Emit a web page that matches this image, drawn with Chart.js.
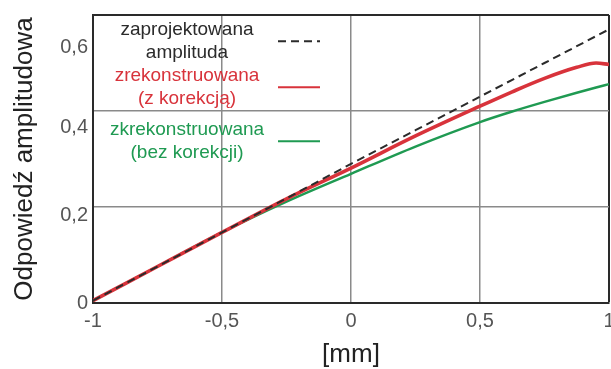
<!DOCTYPE html>
<html>
<head>
<meta charset="utf-8">
<script src="https://cdn.jsdelivr.net/npm/chart.js@4.4.1/dist/chart.umd.min.js"></script>
<style>
    html, body { margin: 0; padding: 0; background: #fff; }
    #wrap { width: 611px; height: 369px; position: relative; }
</style>
</head>
<body>
<div id="wrap"><canvas id="ampChart"></canvas></div>
<script>
    // positions along the scan [mm]
    const positions = [-1, -0.75, -0.5, -0.25, 0, 0.25, 0.5, 0.625, 0.75, 0.875, 0.95, 1];

    const designed = [0.005, 0.076, 0.147, 0.218, 0.29, 0.36, 0.43, 0.465, 0.5, 0.535, 0.556, 0.57];
    const corrected = [0.005, 0.076, 0.147, 0.217, 0.281, 0.348, 0.41, 0.44, 0.468, 0.491, 0.5, 0.497];
    const uncorrected = [0.005, 0.076, 0.147, 0.211, 0.269, 0.326, 0.377, 0.399, 0.419, 0.438, 0.449, 0.456];

    const seriesLabels = [
        ['zaprojektowana', 'amplituda'],
        ['zrekonstruowana', '(z korekcją)'],
        ['zkrekonstruowana', '(bez korekcji)']
    ];

    const xTicks = [-1, -0.5, 0, 0.5, 1];
    const yTicks = [0, 0.2, 0.4, 0.6];

    const FONT = "'Liberation Sans', Arial, sans-serif";
    const FRAME = '#2a2a2a';
    const GRID = '#8a8a8a';

    const toComma = v => String(+v.toFixed(2)).replace('.', ',');
    const pairs = ys => positions.map((x, i) => ({ x, y: ys[i] }));

    // y labels are nudged below their gridlines with empty leading lines
    const yLabelDrop = { '0.6': 4, '0.4': 2, '0.2': 1, '0': 0 };

    const stackedLegend = {
        id: 'stackedLegend',
        afterDraw(chart, args, opts) {
            const { ctx } = chart;
            ctx.save();
            ctx.font = `${opts.size}px ${FONT}`;
            ctx.textAlign = 'center';
            ctx.textBaseline = 'middle';
            chart.data.datasets.forEach((ds, i) => {
                const top = opts.rows[i];
                ctx.fillStyle = ds.borderColor;
                ds.label.forEach((line, j) => ctx.fillText(line, opts.textX, top + j * opts.lineGap));
                ctx.strokeStyle = ds.borderColor;
                ctx.lineWidth = 2;
                ctx.setLineDash(ds.borderDash || []);
                const sy = top + opts.lineGap / 2;
                ctx.beginPath();
                ctx.moveTo(opts.sampleFrom, sy);
                ctx.lineTo(opts.sampleTo, sy);
                ctx.stroke();
            });
            ctx.restore();
        }
    };

    new Chart(document.getElementById('ampChart'), {
        type: 'line',
        data: {
            datasets: [
                {
                    label: seriesLabels[0],
                    data: pairs(designed),
                    borderColor: '#2b2b2b',
                    borderWidth: 2,
                    borderDash: [8, 5],
                    pointRadius: 0,
                    order: 0
                },
                {
                    label: seriesLabels[1],
                    data: pairs(corrected),
                    borderColor: '#d8333b',
                    borderWidth: 3.6,
                    pointRadius: 0,
                    cubicInterpolationMode: 'monotone',
                    order: 1
                },
                {
                    label: seriesLabels[2],
                    data: pairs(uncorrected),
                    borderColor: '#1f9a52',
                    borderWidth: 2.4,
                    pointRadius: 0,
                    cubicInterpolationMode: 'monotone',
                    order: 2
                }
            ]
        },
        options: {
            responsive: true,
            maintainAspectRatio: false,
            animation: false,
            layout: { padding: { top: 15, right: 2, left: 0, bottom: 0 } },
            plugins: {
                legend: { display: false },
                tooltip: { enabled: false },
                stackedLegend: {
                    size: 19,
                    textX: 187,
                    lineGap: 22.5,
                    rows: [30, 76, 130],
                    sampleFrom: 278,
                    sampleTo: 320
                }
            },
            scales: {
                x: {
                    type: 'linear',
                    min: -1,
                    max: 1,
                    afterBuildTicks: s => { s.ticks = xTicks.map(value => ({ value })); },
                    afterFit: s => { s.height = 66; s.paddingLeft = 0; s.paddingRight = 0; },
                    ticks: {
                        callback: v => toComma(v),
                        color: '#555',
                        font: { family: FONT, size: 20 },
                        padding: 6,
                        maxRotation: 0,
                        autoSkip: false
                    },
                    grid: {
                        drawTicks: false,
                        color: c => c.tick && c.tick.value === 1 ? FRAME : GRID,
                        lineWidth: c => c.tick && c.tick.value === 1 ? 2 : 1.5
                    },
                    border: { color: FRAME, width: 2 },
                    title: {
                        display: true,
                        text: '[mm]',
                        color: '#222',
                        font: { family: FONT, size: 26, lineHeight: 1 },
                        padding: { top: 0, bottom: 1 }
                    }
                },
                y: {
                    min: 0,
                    max: 0.6,
                    afterBuildTicks: s => { s.ticks = yTicks.map(value => ({ value })); },
                    afterFit: s => { s.width = 93; s.paddingTop = 0; s.paddingBottom = 0; },
                    ticks: {
                        callback: v => {
                            const drop = yLabelDrop[String(+v.toFixed(1))] || 0;
                            return drop ? [...Array(drop).fill(''), toComma(v)] : toComma(v);
                        },
                        color: '#555',
                        font: { family: FONT, size: 20, lineHeight: 0.8 },
                        padding: 5,
                        autoSkip: false
                    },
                    grid: {
                        drawTicks: false,
                        color: c => c.tick && Math.abs(c.tick.value - 0.6) < 1e-9 ? FRAME : GRID,
                        lineWidth: c => c.tick && Math.abs(c.tick.value - 0.6) < 1e-9 ? 2 : 1.5
                    },
                    border: { color: FRAME, width: 2 },
                    title: {
                        display: true,
                        text: 'Odpowiedź amplitudowa',
                        color: '#222',
                        font: { family: FONT, size: 26, lineHeight: 1 },
                        padding: { top: 12, bottom: 0 }
                    }
                }
            }
        },
        plugins: [stackedLegend]
    });
</script>
</body>
</html>
